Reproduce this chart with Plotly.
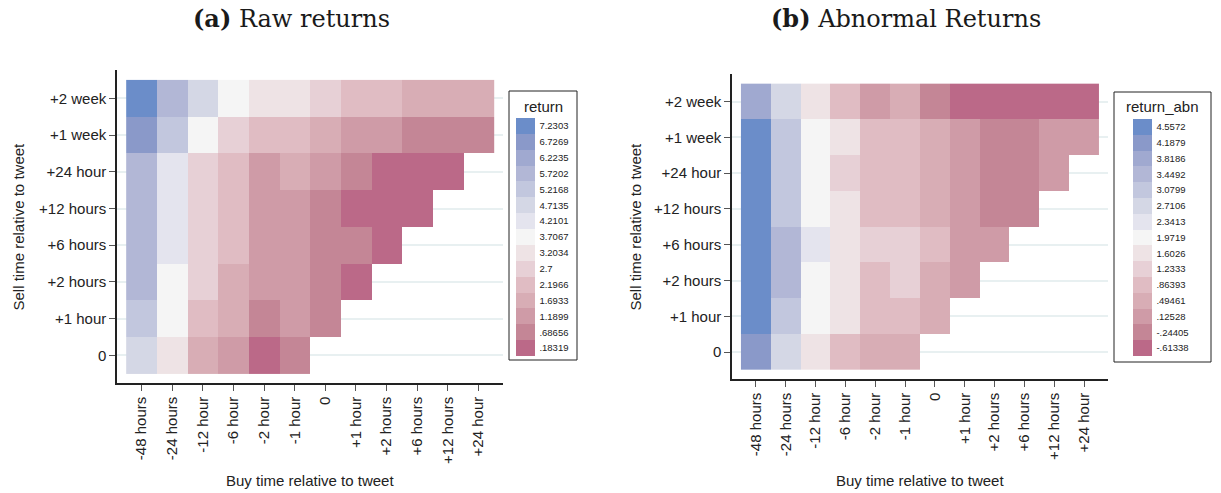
import plotly.graph_objects as go

# ---------------- data ----------------
buy_labels = ["-48 hours", "-24 hours", "-12 hour", "-6 hour", "-2 hour", "-1 hour",
              "0", "+1 hour", "+2 hours", "+6 hours", "+12 hours", "+24 hour"]
sell_labels = ["0", "+1 hour", "+2 hours", "+6 hours", "+12 hours", "+24 hour",
               "+1 week", "+2 week"]

# rows listed from sell = 0 up to sell = +2 week (missing cells on the right are empty)
raw_returns = [
    [4.71, 3.20, 1.69, 1.19, 0.18, 0.69],
    [5.22, 3.71, 2.20, 1.69, 0.69, 1.19, 0.69],
    [5.72, 3.71, 2.70, 1.69, 1.19, 1.19, 0.69, 0.18],
    [5.72, 4.21, 2.70, 2.20, 1.19, 1.19, 0.69, 0.69, 0.18],
    [5.72, 4.21, 2.70, 2.20, 1.19, 1.19, 0.69, 0.18, 0.18, 0.18],
    [5.72, 4.21, 2.70, 2.20, 1.19, 1.69, 1.19, 0.69, 0.18, 0.18, 0.18],
    [6.73, 5.22, 3.71, 2.70, 2.20, 2.20, 1.69, 1.19, 1.19, 0.69, 0.69, 0.69],
    [7.23, 5.72, 4.71, 3.71, 3.20, 3.20, 2.70, 2.20, 2.20, 1.69, 1.69, 1.69],
]
abn_returns = [
    [4.19, 2.71, 1.60, 0.86, 0.49, 0.49],
    [4.56, 3.08, 1.97, 1.60, 0.86, 0.86, 0.49],
    [4.56, 3.45, 1.97, 1.60, 0.86, 1.23, 0.49, 0.13],
    [4.56, 3.45, 2.34, 1.60, 1.23, 1.23, 0.86, 0.13, 0.13],
    [4.56, 3.08, 1.97, 1.60, 0.86, 0.86, 0.49, 0.13, -0.24, -0.24],
    [4.56, 3.08, 1.97, 1.23, 0.86, 0.86, 0.49, 0.13, -0.24, -0.24, 0.13],
    [4.56, 3.08, 1.97, 1.60, 0.86, 0.86, 0.49, 0.13, -0.24, -0.24, 0.13, 0.13],
    [3.82, 2.71, 1.60, 0.86, 0.13, 0.49, -0.24, -0.61, -0.61, -0.61, -0.61, -0.61],
]

raw_legend = ["7.2303", "6.7269", "6.2235", "5.7202", "5.2168", "4.7135", "4.2101", "3.7067",
              "3.2034", "2.7", "2.1966", "1.6933", "1.1899", ".68656", ".18319"]
abn_legend = ["4.5572", "4.1879", "3.8186", "3.4492", "3.0799", "2.7106", "2.3413", "1.9719",
              "1.6026", "1.2333", ".86393", ".49461", ".12528", "-.24405", "-.61338"]

# colours from top (high) to bottom (low)
bin_colors = ["#6b8dc9", "#8a99c9", "#a0a9d0", "#b2b7d6", "#c2c7de", "#d4d7e5", "#e4e4ee",
              "#f5f5f5", "#eee3e5", "#e7d0d6", "#e0bcc3", "#d8adb5", "#cf9ba7", "#c48696",
              "#bb6988"]

W, H = 1221, 493


def pad(rows, n):
    return [r + [None] * (n - len(r)) for r in rows]


def discrete_scale(colors_high_to_low):
    cols = list(reversed(colors_high_to_low))
    n = len(cols)
    sc = []
    for i, c in enumerate(cols):
        sc.append([i / n, c])
        sc.append([(i + 1) / n, c])
    return sc


def px_x(p):
    return p / W


def px_y(p):
    return 1 - p / H


fig = go.Figure()

panels = [
    dict(z=raw_returns, legend=raw_legend, title="return", xa="x", ya="y",
         dom_x=(117, 503), dom_y=(70, 383), box=(509, 91, 577, 360),
         bar=(516, 118, 356), head="<b>(a)</b> Raw returns", head_x=291,
         cb_title_x=543),
    dict(z=abn_returns, legend=abn_legend, title="return_abn", xa="x2", ya="y2",
         dom_x=(732, 1108), dom_y=(74, 379), box=(1114, 92, 1211, 362),
         bar=(1133, 119, 356), head="<b>(b)</b> Abnormal Returns", head_x=906,
         cb_title_x=1162),
]

layout_axes = {}
shapes = []
annotations = []
font_family = "Liberation Sans, Arial, sans-serif"

for i, p in enumerate(panels):
    vals = [float(v) for v in p["legend"]]
    step = (vals[0] - vals[-1]) / (len(vals) - 1)
    zmin = vals[-1] - step / 2
    zmax = vals[0] + step / 2
    bar_x, bar_top, bar_bot = p["bar"]
    fig.add_trace(go.Heatmap(
        z=pad(p["z"], len(buy_labels)),
        x=list(range(len(buy_labels))),
        y=list(range(len(sell_labels))),
        xaxis=p["xa"], yaxis=p["ya"],
        zmin=zmin, zmax=zmax,
        colorscale=discrete_scale(bin_colors),
        hoverongaps=False,
        colorbar=dict(
            x=px_x(bar_x), xanchor="left", xpad=0,
            y=px_y((bar_top + bar_bot) / 2), yanchor="middle", ypad=0,
            len=bar_bot - bar_top, lenmode="pixels",
            thickness=19, thicknessmode="pixels",
            outlinewidth=0,
            tickmode="array", tickvals=vals, ticktext=p["legend"],
            ticks="outside", ticklen=3, tickcolor="rgba(0,0,0,0)",
            tickfont=dict(size=9.5, color="#222", family=font_family),
        ),
    ))
    xname = "xaxis" if i == 0 else "xaxis2"
    yname = "yaxis" if i == 0 else "yaxis2"
    layout_axes[xname] = dict(
        domain=[px_x(p["dom_x"][0]), px_x(p["dom_x"][1])],
        anchor=p["ya"], range=[-0.8, 11.8],
        tickmode="array", tickvals=list(range(len(buy_labels))), ticktext=buy_labels,
        tickangle=-90, ticks="outside", ticklen=6, tickcolor="#555", tickwidth=1,
        showline=True, linecolor="#222", linewidth=1.5,
        showgrid=False, zeroline=False,
        tickfont=dict(size=15, color="#222", family=font_family),
    )
    layout_axes[yname] = dict(
        domain=[px_y(p["dom_y"][1]), px_y(p["dom_y"][0])],
        anchor=p["xa"], range=[-0.75, 7.77],
        tickmode="array", tickvals=list(range(len(sell_labels))), ticktext=sell_labels,
        ticks="outside", ticklen=6, tickcolor="#555", tickwidth=1,
        showline=True, linecolor="#222", linewidth=1.5,
        showgrid=True, gridcolor="#e8f0f1", gridwidth=1.5, zeroline=False,
        tickfont=dict(size=15, color="#222", family=font_family),
    )
    # legend frame
    x0, y0, x1, y1 = p["box"]
    shapes.append(dict(type="rect", xref="paper", yref="paper",
                       x0=px_x(x0), x1=px_x(x1), y0=px_y(y1), y1=px_y(y0),
                       line=dict(color="#222", width=1), fillcolor="rgba(0,0,0,0)"))
    annotations.append(dict(text=p["title"], xref="paper", yref="paper",
                            x=px_x(p["cb_title_x"]), y=px_y(107), xanchor="center",
                            yanchor="middle", showarrow=False,
                            font=dict(size=15, color="#222", family=font_family)))
    # panel heading
    annotations.append(dict(text=p["head"], xref="paper", yref="paper",
                            x=px_x(p["head_x"]), y=px_y(19), xanchor="center",
                            yanchor="middle", showarrow=False,
                            font=dict(size=24, color="#1a1a1a", family="DejaVu Serif, serif")))
    # axis titles
    cx = (p["dom_x"][0] + p["dom_x"][1]) / 2
    cy = (p["dom_y"][0] + p["dom_y"][1]) / 2
    annotations.append(dict(text="Buy time relative to tweet", xref="paper", yref="paper",
                            x=px_x(cx), y=px_y(480), xanchor="center", yanchor="middle",
                            showarrow=False,
                            font=dict(size=15, color="#222", family=font_family)))
    annotations.append(dict(text="Sell time relative to tweet", xref="paper", yref="paper",
                            x=px_x(18 if i == 0 else 635), y=px_y(cy), xanchor="center",
                            yanchor="middle", textangle=-90, showarrow=False,
                            font=dict(size=15, color="#222", family=font_family)))

fig.update_layout(
    width=W, height=H,
    margin=dict(l=0, r=0, t=0, b=0),
    paper_bgcolor="white", plot_bgcolor="white",
    shapes=shapes, annotations=annotations,
    showlegend=False,
    **layout_axes,
)

fig.write_html("out.html")
